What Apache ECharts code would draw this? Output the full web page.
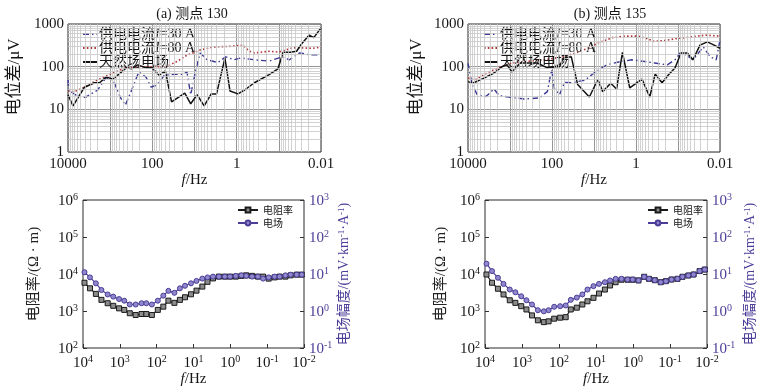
<!DOCTYPE html>
<html><head><meta charset="utf-8">
<script src="https://cdn.jsdelivr.net/npm/echarts@6/dist/echarts.min.js"></script>
<style>html,body{margin:0;padding:0;background:#fff}#c{width:770px;height:389px}</style>
</head><body><div id="c"></div>
<script>
// ---------- data ----------
const NAME30 = '供电电流I=30 A';
const NAME80 = '供电电流I=80 A';
const NAMENAT = '天然场电场';
const NAMERHO = '电阻率';
const NAMEE = '电场';

// (a) 测点 130
const aFreq30 = [10000,9550,6760,3890,2000,1260,851,575,437,331,209,141,107,78,52,47,29.5,20,15.1,12.3,9.8,7.4,5.0,2.8,1.82,1.17,0.79,0.38,0.17,0.083,0.056,0.032,0.019,0.01];
const aVal30  = [49,28,22,19,28,55,49,19,12.5,24,75,57,33,37,63,70,66,66,75,22,66,210,145,125,170,145,160,145,135,170,145,210,190,190];
const aFreq80 = [10000,7080,4070,2000,955,437,209,102,47,26.9,15.1,7.4,3.6,1.38,0.71,0.5,0.38,0.17,0.1,0.048,0.028,0.0155,0.01];
const aVal80  = [27,26,33,49,68,94,98,100,100,130,185,245,290,300,320,230,210,230,220,275,275,270,290];
const aFreqNat = [10000,7590,4070,2340,1780,1260,851,417,309,224,141,102,69,49,35,17,12.3,8.7,5.9,4.0,3.0,1.9,1.44,0.93,0.66,0.38,0.17,0.105,0.079,0.054,0.038,0.028,0.019,0.0148,0.01];
const aValNat  = [22,12,33,42,42,57,51,94,89,110,94,94,63,80,15,24,13.5,22,12,23,23,158,27,23,28,42,65,89,218,218,230,355,550,480,810];

// (b) 测点 135
const bFreq30 = [10000,7940,6030,3720,2400,1820,933,457,200,129,102,87,66,50,34.7,16.6,9.8,5.0,2.45,1.26,0.62,0.36,0.18,0.112,0.089,0.065,0.044,0.025,0.017,0.0123,0.01];
const bVal30  = [120,37,22,20,30,21,19,17.5,18.5,26,85,30,22,43,42,48,72,110,130,145,132,122,110,150,210,190,145,290,170,145,420];
const bFreq80 = [10000,6760,3550,1820,891,347,151,66,28.8,14.1,7.4,3.6,1.86,0.91,0.59,0.37,0.21,0.1,0.046,0.022,0.01];
const bVal80  = [54,49,71,95,122,135,145,165,205,270,370,480,520,520,470,390,410,460,500,550,520];
const bFreqNat = [10000,7240,4170,2400,1550,1175,891,575,224,129,98,66,54,34.7,24.5,12.9,8.1,6.2,4.0,2.9,2.1,1.41,0.72,0.47,0.35,0.24,0.17,0.117,0.085,0.06,0.044,0.030,0.020,0.0138,0.01];
const bValNat  = [44,42,54,71,100,110,75,122,122,94,100,100,160,170,38,19.5,50,26,41,30,215,32,51,19.5,67,42,64,94,210,210,145,320,380,320,270];

// bottom panels (shared frequencies)
const freqMT = [9120,6460,4470,3160,2140,1510,1050,759,537,372,257,191,135,93,66,48,33,23.4,17,11.7,8.3,5.75,4.17,2.95,2.04,1.41,1.02,0.71,0.5,0.37,0.257,0.178,0.129,0.091,0.063,0.046,0.032,0.023,0.0158,0.0115];
const rhoA = [5800,4100,2900,2000,1620,1380,1180,1070,870,780,830,830,780,1070,1310,1900,1660,2000,2350,2830,3550,4570,6150,7600,8500,8500,8500,8500,8900,9200,8900,8500,8500,7500,8100,8500,8500,9200,9600,9600];
const eA   = [11.2,8.1,5.6,3.7,2.8,2.45,2.1,1.9,1.5,1.5,1.62,1.62,1.5,1.9,2.6,3.5,3.1,4.1,4.8,5.6,6.5,7.5,8.1,8.5,8.5,8.5,8.5,8.9,9.2,8.9,8.5,8.5,7.5,8.1,8.5,8.5,9.2,9.6,9.6,9.6];
const rhoB = [9700,5800,4000,2800,1950,1660,1350,1100,760,560,500,525,620,660,680,1100,1230,1500,1830,2270,2970,3800,4900,6000,7000,7000,7000,6700,8400,7400,6800,6000,6400,7100,7400,8400,9100,9700,12000,13200];
const eB   = [19,12,7.9,5.4,3.8,3.2,2.5,1.95,1.5,1.05,0.98,1.05,1.3,1.35,1.41,2.0,2.3,2.8,3.8,4.7,5.4,6.0,6.7,7.4,7.4,7.1,7.1,6.7,8.4,7.4,6.8,6.0,6.4,7.1,7.4,8.4,9.1,9.7,12,13.2];

const titles = ['(a) 测点 130', '(b) 测点 135'];

// ---------- styles ----------
const SERIF = "'Liberation Serif','Times New Roman','Noto Sans CJK SC',serif";
const CJK = "'Noto Sans CJK SC','Noto Sans',sans-serif";
const PURPLE = '#4b3d98';
const INK = '#151515';

function pairs(f, v) { return f.map((x, i) => [x, v[i]]); }
function expOf(v) { return Math.round(Math.log10(v)); }
function minorVals(k0, k1) {
  const out = [];
  for (let k = k0; k < k1; k++) for (let m = 2; m <= 9; m++) out.push(+(m * Math.pow(10, k)).toPrecision(3));
  return out;
}
const supRich = {
  b: { fontSize: 15, fontFamily: SERIF, verticalAlign: 'bottom', lineHeight: 18 },
  s: { fontSize: 10, fontFamily: SERIF, verticalAlign: 'bottom', lineHeight: 18, padding: [0, 0, 7, 0] }
};
function supLabel(v) { return '{b|10}{s|' + expOf(v) + '}'; }
const fRich = { i: { fontStyle: 'italic', fontSize: 15, fontFamily: SERIF } };

const grids = [
  { left: 68, top: 24, width: 253, height: 128 },
  { left: 468, top: 24, width: 252, height: 128 },
  { left: 83, top: 200, width: 221, height: 148 },
  { left: 485, top: 200, width: 222, height: 148 }
].map(g => Object.assign({ show: true, borderColor: '#2a2a2a', borderWidth: 1, containLabel: false }, g));

const xAxes = [0, 1, 2, 3].map(gi => {
  const top = gi < 2;
  return {
    type: 'log', logBase: 10, gridIndex: gi, inverse: true, min: 0.01, max: 10000, splitNumber: 6,
    axisLine: { show: false },
    axisTick: { show: !top, inside: true, length: 4, lineStyle: { color: '#333' } },
    splitLine: { show: top, lineStyle: { color: '#8a8a8a', width: 0.9 } },
    axisLabel: top ? {
      margin: 5, color: INK, fontSize: 15, fontFamily: SERIF,
      formatter: v => { const e = expOf(v); if (e % 2) return ''; return e >= 0 ? String(Math.pow(10, e)) : Math.pow(10, e).toFixed(-e); }
    } : { margin: 5, color: INK, formatter: supLabel, rich: supRich },
    name: '{i|f}/Hz', nameLocation: 'middle', nameGap: top ? 17 : 22,
    nameTextStyle: { color: INK, fontSize: 15, fontFamily: SERIF, rich: fRich }
  };
});

const yAxes = [];
[0, 1].forEach(gi => yAxes.push({
  type: 'log', logBase: 10, gridIndex: gi, min: 1, max: 1000,
  axisLine: { show: false }, axisTick: { show: false },
  splitLine: { show: true, lineStyle: { color: '#8a8a8a', width: 0.9 } },
  axisLabel: { margin: 4, color: INK, fontSize: 15, fontFamily: SERIF, formatter: v => String(Math.pow(10, expOf(v))) },
  name: '电位差/μV', nameLocation: 'middle', nameGap: gi === 0 ? 45 : 43,
  nameTextStyle: { color: INK, fontSize: 17, fontFamily: SERIF, padding: [0, 0, 0, 22] }
}));
[2, 3].forEach(gi => {
  yAxes.push({
    type: 'log', logBase: 10, gridIndex: gi, position: 'left', min: 100, max: 1000000,
    axisLine: { show: false }, axisTick: { show: true, inside: true, length: 4, lineStyle: { color: '#333' } },
    splitLine: { show: false },
    axisLabel: { margin: 5, color: INK, formatter: supLabel, rich: supRich },
    name: '电阻率/(Ω · m)', nameLocation: 'middle', nameGap: gi === 2 ? 41 : 36,
    nameTextStyle: { color: '#222', fontSize: 15, fontFamily: SERIF }
  });
  yAxes.push({
    type: 'log', logBase: 10, gridIndex: gi, position: 'right', min: 0.1, max: 1000,
    axisLine: { show: false }, axisTick: { show: true, inside: true, length: 4, lineStyle: { color: '#333' } },
    splitLine: { show: false },
    axisLabel: { margin: 5, color: PURPLE, formatter: supLabel,
      rich: { b: Object.assign({}, supRich.b, { color: PURPLE }), s: Object.assign({}, supRich.s, { color: PURPLE }) } },
    name: '电场幅度/(mV·km{s|-1}·A{s|-1})', nameLocation: 'middle', nameGap: gi === 2 ? 33 : 36,
    nameTextStyle: { color: PURPLE, fontSize: 14, fontFamily: SERIF,
      rich: { s: { fontSize: 9, fontFamily: SERIF, color: PURPLE, verticalAlign: 'bottom', padding: [0, 0, 6, 0] } } }
  });
});

function gridSeries(xi, yi) {
  return {
    type: 'line', xAxisIndex: xi, yAxisIndex: yi, data: [], silent: true, z: 1,
    markLine: {
      silent: true, symbol: ['none', 'none'], label: { show: false }, animation: false,
      lineStyle: { color: '#c6c6c6', width: 0.8, type: 'solid' },
      emphasis: { disabled: true },
      data: minorVals(-2, 4).map(v => ({ xAxis: v })).concat(minorVals(0, 3).map(v => ({ yAxis: v })))
    }
  };
}

const s30 = { color: '#3a3a94', lineStyle: { width: 1.4, type: [6, 3, 1.5, 3], color: '#3a3a94' } };
const s80 = { color: '#b03838', lineStyle: { width: 1.6, type: [1.6, 2.2], color: '#b03838' } };
const sNat = { color: '#111', lineStyle: { width: 1.5, color: '#111' } };
function topSeries(i, f30, v30, f80, v80, fn, vn) {
  const base = { type: 'line', xAxisIndex: i, yAxisIndex: i, symbol: 'none', z: 3 };
  return [
    gridSeries(i, i),
    Object.assign({ name: NAME80, data: pairs(f80, v80) }, base, s80),
    Object.assign({ name: NAME30, data: pairs(f30, v30) }, base, s30),
    Object.assign({ name: NAMENAT, data: pairs(fn, vn) }, base, sNat)
  ];
}
function bottomSeries(xi, yl, yr, rho, e) {
  return [
    { name: NAMERHO, type: 'line', xAxisIndex: xi, yAxisIndex: yl, data: pairs(freqMT, rho), z: 3,
      symbol: 'rect', symbolSize: 5, itemStyle: { color: '#8c8c8c', borderColor: '#1a1a1a', borderWidth: 1 },
      lineStyle: { color: '#1a1a1a', width: 1.2 } },
    { name: NAMEE, type: 'line', xAxisIndex: xi, yAxisIndex: yr, data: pairs(freqMT, e), z: 4,
      symbol: 'circle', symbolSize: 5, itemStyle: { color: '#9088cc', borderColor: PURPLE, borderWidth: 1 },
      lineStyle: { color: PURPLE, width: 1.2 } }
  ];
}

const series = [].concat(
  topSeries(0, aFreq30, aVal30, aFreq80, aVal80, aFreqNat, aValNat),
  topSeries(1, bFreq30, bVal30, bFreq80, bVal80, bFreqNat, bValNat),
  bottomSeries(2, 2, 3, rhoA, eA),
  bottomSeries(3, 4, 5, rhoB, eB)
);

function topLegend(left) {
  return {
    left: left, top: 27, orient: 'vertical', itemGap: 0, itemWidth: 14, itemHeight: 8, padding: 0,
    selectedMode: false, data: [NAME30, NAME80, NAMENAT],
    itemStyle: { opacity: 0, borderWidth: 0 },
    formatter: n => n.replace('I=', '{i|I}='),
    textStyle: { fontSize: 14, fontFamily: SERIF, color: INK, lineHeight: 9, padding: [0, 0, 0, -3],
      rich: { i: { fontStyle: 'italic', fontSize: 14, fontFamily: SERIF, lineHeight: 9 } } }
  };
}
function bottomLegend(left) {
  return {
    left: left, top: 204, orient: 'vertical', itemGap: 1, itemWidth: 20, itemHeight: 6, padding: 0,
    selectedMode: false, data: [NAMERHO, NAMEE],
    textStyle: { fontSize: 10, fontFamily: CJK, color: INK, lineHeight: 12 }
  };
}

const option = {
  animation: false,
  backgroundColor: '#fff',
  title: [
    { text: titles[0], left: 187, top: 2, textAlign: 'center', textStyle: { fontSize: 14, fontWeight: 'normal', fontFamily: SERIF, color: INK } },
    { text: titles[1], left: 605, top: 2, textAlign: 'center', textStyle: { fontSize: 14, fontWeight: 'normal', fontFamily: SERIF, color: INK } }
  ],
  legend: [topLegend(82), topLegend(483), bottomLegend(237), bottomLegend(647)],
  grid: grids,
  xAxis: xAxes,
  yAxis: yAxes,
  series: series
};

const chart = echarts.init(document.getElementById('c'), null, { renderer: 'canvas' });
chart.setOption(option);
</script>
</body></html>
